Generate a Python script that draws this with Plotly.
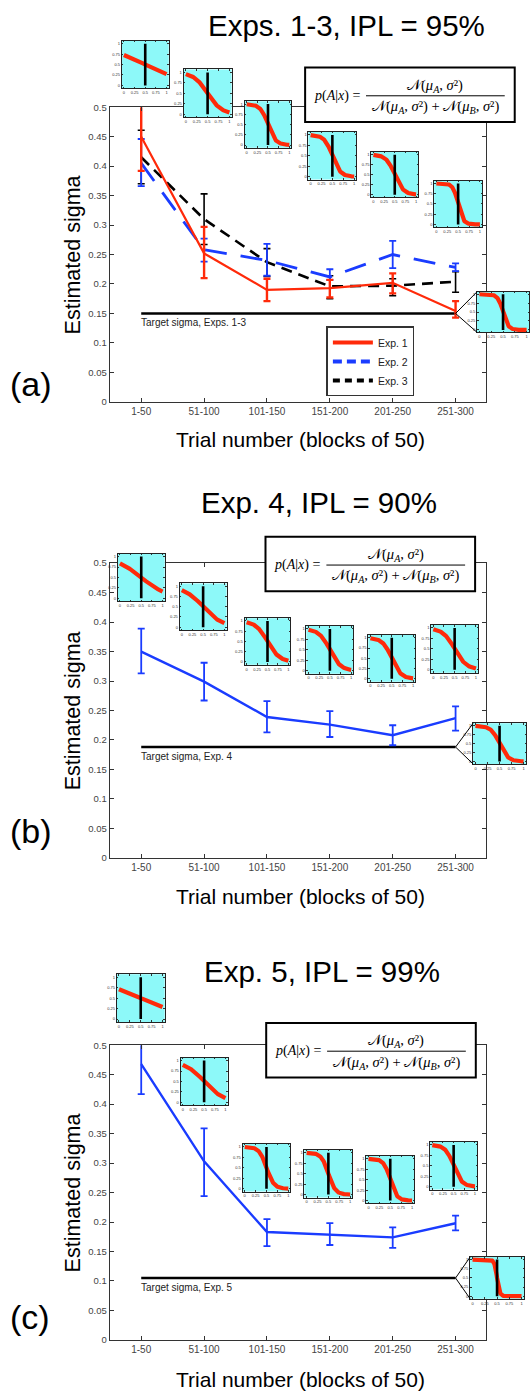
import numpy as np
import plotly.graph_objects as go

W, H = 530, 1395
FONT = "Liberation Sans, Arial, Helvetica, sans-serif"
SERIF = "Liberation Serif, Times New Roman, DejaVu Serif, serif"

# ---------------- data ----------------
BLOCKS = ["1-50", "51-100", "101-150", "151-200", "201-250", "251-300"]

# Panel (a): Exps. 1-3
EXP1 = [0.450, 0.252, 0.190, 0.193, 0.202, 0.154]
EXP1_HI = [0.505, 0.297, 0.209, 0.207, 0.218, 0.171]
EXP1_LO = [0.392, 0.210, 0.171, 0.177, 0.184, 0.143]
EXP2 = [0.405, 0.258, 0.240, 0.212, 0.250, 0.228]
EXP2_HI = [0.446, 0.277, 0.268, 0.225, 0.273, 0.235]
EXP2_LO = [0.366, 0.238, 0.214, 0.207, 0.227, 0.222]
EXP3 = [0.415, 0.310, 0.237, 0.196, 0.197, 0.204]
EXP3_HI = [0.461, 0.353, 0.260, 0.214, 0.209, 0.221]
EXP3_LO = [0.370, 0.267, 0.213, 0.175, 0.180, 0.186]
TARGET_A = 0.15

# Panel (b): Exp. 4
EXP4 = [0.350, 0.299, 0.239, 0.226, 0.208, 0.237]
EXP4_HI = [0.389, 0.331, 0.266, 0.249, 0.225, 0.257]
EXP4_LO = [0.313, 0.267, 0.213, 0.205, 0.191, 0.216]
TARGET_B = 0.188

# Panel (c): Exp. 5
EXP5 = [0.468, 0.303, 0.183, 0.179, 0.174, 0.198]
EXP5_HI = [0.520, 0.359, 0.205, 0.198, 0.191, 0.211]
EXP5_LO = [0.417, 0.244, 0.159, 0.161, 0.156, 0.186]
TARGET_C = 0.105

# model for the inset curves: p(A|x) with equal-variance Gaussians
MU_A, MU_B = 0.3, 0.7
INSET_TICKS = [0, 0.25, 0.5, 0.75, 1]
INSET_TICKTEXT = ["0", "0.25", "0.5", "0.75", "1"]

TITLES = ["Exps. 1-3, IPL = 95%", "Exp. 4, IPL = 90%", "Exp. 5, IPL = 99%"]
PANEL_LABELS = ["(a)", "(b)", "(c)"]
TARGET_LABELS = ["Target sigma, Exps. 1-3", "Target sigma, Exp. 4", "Target sigma, Exp. 5"]

# ---------------- styling / geometry ----------------
RED = "#FF2A0A"
BLUE = "#1A3CFF"
CYAN = "#8DF9F9"
L, R = 110, 487.3
PLOT_H = 297
TOPS = [102.0, 561.6, 1047.5]
XR = [-0.5, 5.49]
YR = [0, 0.5]
INSET_XR = [-0.05, 1.05]
INSET_YR = [-0.07, 1.07]

# inset boxes (pixel x0, x1, y0, y1) per panel
INSET_BOXES = [
    [(122, 169, 35, 83), (184, 232, 64, 112), (245, 292, 96, 143), (309, 357, 127, 175),
     (372, 419, 147, 193), (435, 483, 176, 223), (478, 530, 288, 329)],
    [(118, 165, 552, 600), (180, 227, 582, 629), (245, 291, 617, 664), (307, 354, 625, 673),
     (369, 416, 634, 681), (432, 479, 624, 672), (474, 527, 723, 764)],
    [(117, 165, 976, 1024), (181, 228, 1060, 1108), (243, 291, 1147, 1195), (305, 353, 1153, 1201),
     (367, 415, 1159, 1207), (431, 478, 1145, 1193), (471, 525, 1261, 1303)],
]
TITLE_POS = [(347, 20), (320, 500), (323, 973)]
LABEL_POS = [(31, 381), (31, 832), (30, 1321)]
XTITLE_Y = [437, 898, 1384]
EQ_BOX = [(305.7, 62), (266, 535), (266.7, 1025)]
EQ_W, EQ_H = 210, 55


def fx(p):
    return p / W


def fy(p):
    return 1 - p / H


def data_px(panel, xi, yv):
    x = L + (xi - XR[0]) / (XR[1] - XR[0]) * (R - L)
    y = TOPS[panel] + (YR[1] - yv) / (YR[1] - YR[0]) * PLOT_H
    return x, y


def p_a(x, s):
    na = np.exp(-(x - MU_A) ** 2 / (2 * s * s))
    nb = np.exp(-(x - MU_B) ** 2 / (2 * s * s))
    return na / (na + nb)


fig = go.Figure()
shapes = []
annotations = []
layout = dict(width=W, height=H, margin=dict(l=0, r=0, t=0, b=0),
              paper_bgcolor="white", plot_bgcolor="white",
              font=dict(family=FONT, color="#222"))

# main axes
for i, top in enumerate(TOPS):
    k = "" if i == 0 else str(i + 1)
    layout["xaxis" + k] = dict(domain=[fx(L), fx(R)], anchor="y" + k, type="category",
                               categoryorder="array", categoryarray=BLOCKS,
                               range=XR, ticks="inside", ticklen=4, tickwidth=1,
                               tickcolor="#333", showline=True, linecolor="#333",
                               linewidth=1.3, mirror="ticks", showgrid=False,
                               zeroline=False, tickfont=dict(size=10, color="#444"),
                               fixedrange=True)
    layout["yaxis" + k] = dict(domain=[fy(top + PLOT_H), fy(top)], anchor="x" + k,
                               range=YR, dtick=0.05, ticks="inside", ticklen=4,
                               tickwidth=1, tickcolor="#333", showline=True,
                               linecolor="#333", linewidth=1.3, mirror="ticks",
                               showgrid=False, zeroline=False,
                               tickfont=dict(size=9.5, color="#444"), fixedrange=True)


def err(vals, hi, lo):
    return dict(type="data", symmetric=False,
                array=[h - v for h, v in zip(hi, vals)],
                arrayminus=[v - l for v, l in zip(vals, lo)])


def add_series(panel, vals, hi, lo, color, width, dash, ewidth):
    k = "" if panel == 0 else str(panel + 1)
    e = err(vals, hi, lo)
    e.update(color=color, thickness=ewidth, width=3.5)
    fig.add_trace(go.Scatter(x=BLOCKS, y=vals, mode="lines", xaxis="x" + k, yaxis="y" + k,
                             line=dict(color=color, width=width, dash=dash),
                             error_y=e, showlegend=False, hoverinfo="skip"))


targets = [TARGET_A, TARGET_B, TARGET_C]
# target lines first (beneath data)
for i, t in enumerate(targets):
    k = "" if i == 0 else str(i + 1)
    fig.add_trace(go.Scatter(x=[BLOCKS[0], BLOCKS[-1]], y=[t, t], mode="lines",
                             xaxis="x" + k, yaxis="y" + k,
                             line=dict(color="black", width=2.6), showlegend=False,
                             hoverinfo="skip"))
    annotations.append(dict(x=BLOCKS[0], y=t, xref="x" + k, yref="y" + k,
                            text=TARGET_LABELS[i], showarrow=False, xanchor="left",
                            yanchor="top", yshift=-2, xshift=-2,
                            font=dict(size=10, color="#222", family=FONT)))

add_series(0, EXP3, EXP3_HI, EXP3_LO, "black", 2.6, "11px,7px", 1.6)
add_series(0, EXP2, EXP2_HI, EXP2_LO, BLUE, 2.8, "22px,14px", 1.8)
add_series(0, EXP1, EXP1_HI, EXP1_LO, RED, 2.2, "solid", 2.4)
add_series(1, EXP4, EXP4_HI, EXP4_LO, BLUE, 2.4, "solid", 1.8)
add_series(2, EXP5, EXP5_HI, EXP5_LO, BLUE, 2.4, "solid", 1.8)

# legend proxies (panel a)
for name, color, dash in [("Exp. 1", RED, "solid"), ("Exp. 2", BLUE, "9px,5px"),
                          ("Exp. 3", "black", "7px,5px")]:
    fig.add_trace(go.Scatter(x=[None], y=[None], mode="lines", name=name,
                             line=dict(color=color, width=4, dash=dash), showlegend=True))

layout["legend"] = dict(x=fx(327), y=fy(323), xanchor="left", yanchor="top",
                        bordercolor="#333", borderwidth=1.5, bgcolor="white",
                        font=dict(size=10.5, color="#222", family=FONT),
                        itemwidth=40, tracegroupgap=0)

# insets
sigmas = [EXP1 + [TARGET_A], EXP4 + [TARGET_B], EXP5 + [TARGET_C]]
xs = np.linspace(0, 1, 121)
n = 4
for p in range(3):
    for j, (x0, x1, y0, y1) in enumerate(INSET_BOXES[p]):
        xa, ya = f"x{n}", f"y{n}"
        common = dict(tickvals=INSET_TICKS, ticktext=INSET_TICKTEXT,
                      ticks="inside", ticklen=1.5, tickwidth=0.6, tickcolor="#333",
                      tickfont=dict(size=4, color="#333"), showline=True, linewidth=1,
                      linecolor="#222", mirror="ticks", showgrid=False, zeroline=False,
                      fixedrange=True)
        layout[f"xaxis{n}"] = dict(common, domain=[fx(x0), min(1, fx(x1))], anchor=ya,
                                   range=INSET_XR)
        layout[f"yaxis{n}"] = dict(common, domain=[fy(y1), fy(y0)], anchor=xa,
                                   range=INSET_YR)
        shapes.append(dict(type="rect", xref=xa, yref=ya, x0=-1, x1=2, y0=-1, y1=2,
                           fillcolor=CYAN, line=dict(width=0), layer="below"))
        s = sigmas[p][j]
        fig.add_trace(go.Scatter(x=xs, y=p_a(xs, s), mode="lines", xaxis=xa, yaxis=ya,
                                 line=dict(color=RED, width=4.2), showlegend=False,
                                 hoverinfo="skip"))
        mid = (MU_A + MU_B) / 2
        fig.add_trace(go.Scatter(x=[mid, mid], y=[0, 1], mode="lines", xaxis=xa, yaxis=ya,
                                 line=dict(color="black", width=2.6), showlegend=False,
                                 hoverinfo="skip"))
        n += 1

    # callout triangle from the last target point to the last inset
    vx, vy = data_px(p, 5, targets[p])
    bx0, bx1, by0, by1 = INSET_BOXES[p][-1]
    for cy in (by0, by1):
        shapes.append(dict(type="line", xref="paper", yref="paper",
                           x0=fx(vx), y0=fy(vy), x1=fx(bx0), y1=fy(cy),
                           line=dict(color="black", width=1), layer="above"))

# titles, panel labels, axis titles
for i in range(3):
    tx, ty = TITLE_POS[i]
    annotations.append(dict(x=fx(tx), y=fy(ty), xref="paper", yref="paper",
                            text=TITLES[i], showarrow=False, xanchor="center",
                            yanchor="middle", font=dict(size=29.5, color="black", family=FONT)))
    lx, ly = LABEL_POS[i]
    annotations.append(dict(x=fx(lx), y=fy(ly), xref="paper", yref="paper",
                            text=PANEL_LABELS[i], showarrow=False, xanchor="center",
                            yanchor="middle", font=dict(size=34, color="black", family=FONT)))
    annotations.append(dict(x=fx((L + R) / 2 + 2), y=fy(XTITLE_Y[i]), xref="paper",
                            yref="paper", text="Trial number (blocks of 50)",
                            showarrow=False, xanchor="center", yanchor="middle",
                            font=dict(size=21, color="black", family=FONT)))
    annotations.append(dict(x=fx(73), y=fy(TOPS[i] + PLOT_H / 2), xref="paper",
                            yref="paper", text="Estimated sigma", textangle=-90,
                            showarrow=False, xanchor="center", yanchor="middle",
                            font=dict(size=21.5, color="black", family=FONT)))

    # equation box
    ex, ey = EQ_BOX[i]
    shapes.append(dict(type="rect", xref="paper", yref="paper", x0=fx(ex), x1=fx(ex + EQ_W),
                       y0=fy(ey), y1=fy(ey + EQ_H), fillcolor="white",
                       line=dict(color="black", width=2), layer="above"))
    shapes.append(dict(type="line", xref="paper", yref="paper", x0=fx(ex + 61),
                       x1=fx(ex + 200), y0=fy(ey + 28.5), y1=fy(ey + 28.5),
                       line=dict(color="black", width=1), layer="above"))
    nA = "𝒩(<i>μ</i><sub><i>A</i></sub>, <i>σ</i>²)"
    nB = "𝒩(<i>μ</i><sub><i>B</i></sub>, <i>σ</i>²)"
    annotations.append(dict(x=fx(ex + 7), y=fy(ey + 28.5), xref="paper", yref="paper",
                            text="<i>p</i>(<i>A</i>|<i>x</i>) =", showarrow=False,
                            xanchor="left", yanchor="middle",
                            font=dict(size=14, color="black", family=SERIF)))
    annotations.append(dict(x=fx(ex + 130.5), y=fy(ey + 18.5), xref="paper", yref="paper",
                            text=nA, showarrow=False, xanchor="center", yanchor="middle",
                            font=dict(size=14.5, color="black", family=SERIF)))
    annotations.append(dict(x=fx(ex + 130.5), y=fy(ey + 40), xref="paper", yref="paper",
                            text=nA + " + " + nB, showarrow=False, xanchor="center",
                            yanchor="middle",
                            font=dict(size=14.5, color="black", family=SERIF)))

layout["shapes"] = shapes
layout["annotations"] = annotations
fig.update_layout(**layout)
fig.write_html("out.html")
